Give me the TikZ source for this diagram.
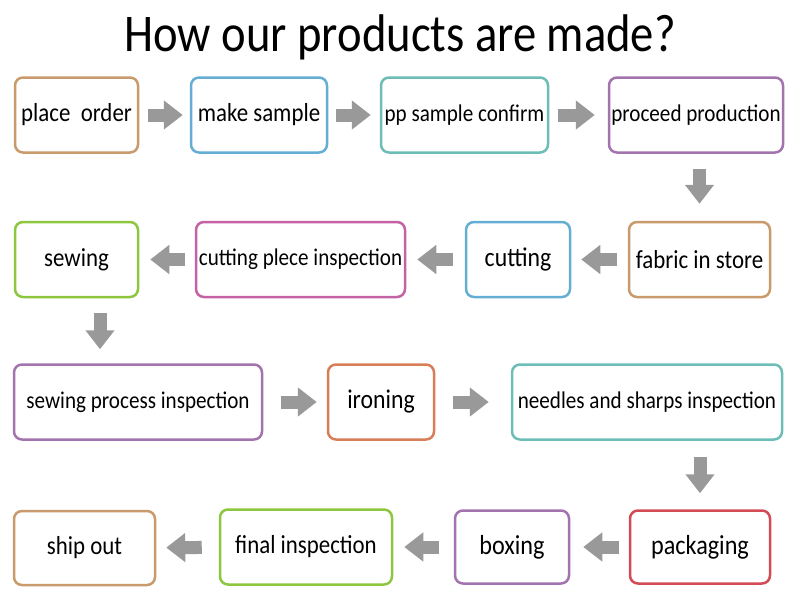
\documentclass[tikz,border=0pt]{standalone}
\usepackage{fontspec}
\setmainfont{Carlito}[FakeStretch=0.88]
\usetikzlibrary{arrows.meta,calc}
\definecolor{boxtan}{HTML}{C99A6B}
\definecolor{boxblue}{HTML}{64AED4}
\definecolor{boxteal}{HTML}{6CBDB5}
\definecolor{boxpurple}{HTML}{A373AE}
\definecolor{boxgreen}{HTML}{8DC63F}
\definecolor{boxpink}{HTML}{C561A5}
\definecolor{boxorange}{HTML}{D87E57}
\definecolor{boxred}{HTML}{D24B55}
\definecolor{flowgray}{HTML}{999999}
\newcommand{\fsz}[1]{\fontsize{#1}{#1}\selectfont}
\tikzset{
  stage/.style={draw, rounded corners=8pt, line width=2.5pt, inner sep=0pt,
    minimum height=75pt, font=\fsz{26}},
  bigarrow/.style={draw=flowgray, line width=13pt,
    -{Triangle[width=28pt,length=19pt]}},
}
\begin{document}
\begin{tikzpicture}[x=1pt,y=-1pt]
\useasboundingbox (0,0) rectangle (800,600);
\node[font=\fsz{53}] (title) at (400,37) {How our products are made?};

% row 1
\node[stage, draw=boxtan, minimum width=123pt] (order) at (76.5,115) {place\ \ order};
\node[stage, draw=boxblue, minimum width=136pt] (sample) at (259,115) {make sample};
\node[stage, draw=boxteal, minimum width=167pt, font=\fsz{24}] (pp) at (464.5,115) {pp sample confirm};
\node[stage, draw=boxpurple, minimum width=174pt, font=\fsz{24}] (proceed) at (696,115) {proceed production};

% row 2
\node[stage, draw=boxtan, minimum width=141pt] (fabric) at (699.5,259.5) {fabric in store};
\node[stage, draw=boxblue, minimum width=104pt, font=\fsz{27}] (cutting) at (518,259.5) {cutting};
\node[stage, draw=boxpink, minimum width=209pt, font=\fsz{24}] (cplece) at (300.5,259.5) {cutting plece inspection};
\node[stage, draw=boxgreen, minimum width=123pt] (sewing) at (76.5,259.5) {sewing};

% row 3
\node[stage, draw=boxpurple, minimum width=248pt, font=\fsz{24}] (sewproc) at (138,402) {sewing process inspection};
\node[stage, draw=boxorange, minimum width=106pt, font=\fsz{27}] (ironing) at (381,402) {ironing};
\node[stage, draw=boxteal, minimum width=270pt, font=\fsz{24}] (needles) at (647,402) {needles and sharps inspection};

% row 4
\node[stage, draw=boxred, minimum width=140pt, minimum height=73pt, font=\fsz{27.5}] (packaging) at (700,547) {packaging};
\node[stage, draw=boxpurple, minimum width=114pt, minimum height=73pt, font=\fsz{27.5}] (boxing) at (512,547) {boxing};
\node[stage, draw=boxgreen, minimum width=172pt] (final) at (306,547) {final inspection};
\node[stage, draw=boxtan, minimum width=141pt, minimum height=74pt] (ship) at (84.5,548) {ship out};

% arrows
\coordinate (sewdrop) at (100,0);
\draw[bigarrow, shorten <=9pt, shorten >=7pt] (order) -- (sample);
\draw[bigarrow, shorten <=8pt, shorten >=9pt] (sample) -- (pp);
\draw[bigarrow, shorten <=9pt, shorten >=13pt] (pp) -- (proceed);
\draw[bigarrow, shorten <=15pt, shorten >=17pt] (proceed.south -| fabric) -- (fabric);
\draw[bigarrow, shorten <=11pt, shorten >=10pt] (fabric) -- (cutting);
\draw[bigarrow, shorten <=12pt, shorten >=11pt] (cutting) -- (cplece);
\draw[bigarrow, shorten <=10pt, shorten >=11pt] (cplece) -- (sewing);
\draw[bigarrow, shorten <=15pt, shorten >=14pt] (sewing.south -| sewdrop) -- (sewproc.north -| sewdrop);
\draw[bigarrow, shorten <=18pt, shorten >=10pt] (sewproc) -- (ironing);
\draw[bigarrow, shorten <=18pt, shorten >=22pt] (ironing) -- (needles);
\draw[bigarrow, shorten <=16pt, shorten >=16pt] (needles.south -| packaging) -- (packaging);
\draw[bigarrow, shorten <=10pt, shorten >=13pt] (packaging) -- (boxing);
\draw[bigarrow, shorten <=15pt, shorten >=11pt] (boxing) -- (final);
\draw[bigarrow, shorten <=17pt, shorten >=10pt] (final) -- (ship);
\end{tikzpicture}
\end{document}
